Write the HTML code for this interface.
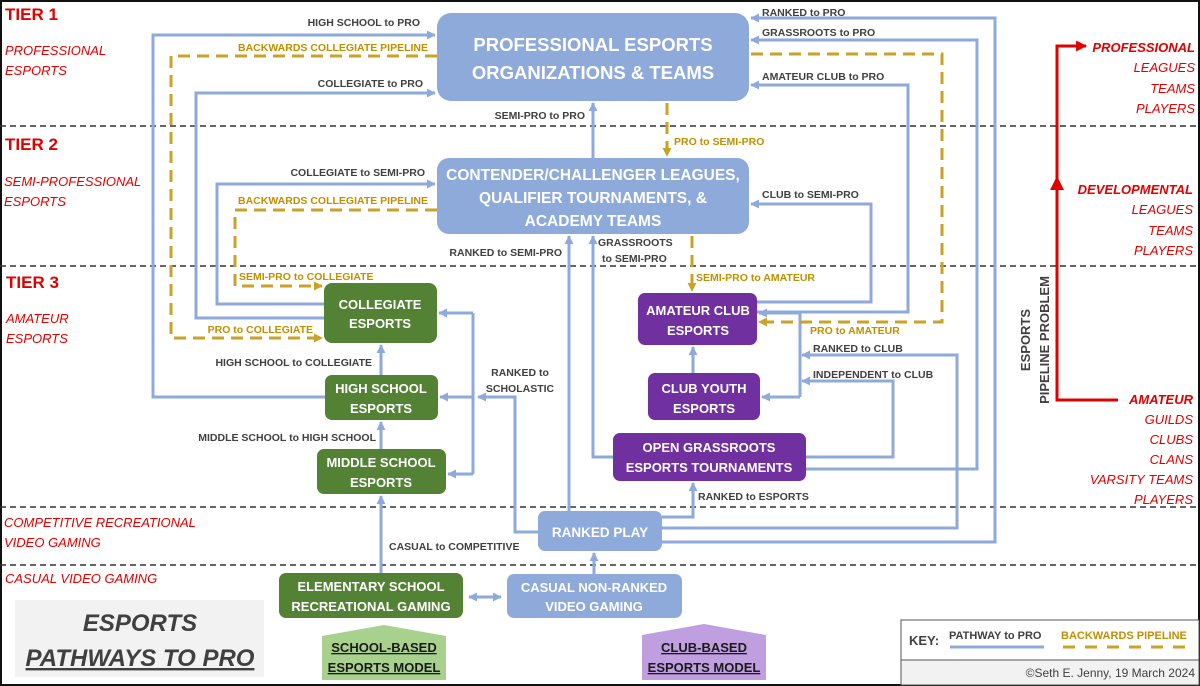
<!DOCTYPE html>
<html><head><meta charset="utf-8"><style>
html,body{margin:0;padding:0;background:#fff}
svg{display:block}
text{font-family:"Liberation Sans",sans-serif}
.l{font-size:10.5px;font-weight:bold;fill:#404040}
.g{font-size:10.5px;font-weight:bold;fill:#bf9000}
.r{font-size:13px;font-style:italic;fill:#e00000}
.rb{font-size:13px;font-style:italic;font-weight:bold;fill:#e00000}
.t{font-size:17px;font-weight:bold;fill:#e00000}
.w{fill:#fff;font-weight:bold;text-anchor:middle}
.bl{fill:none;stroke:#8eaadb;stroke-width:3}
.gd{fill:none;stroke:#c9a227;stroke-width:3;stroke-dasharray:12,7}
.dl{stroke:#333;stroke-width:1.5;stroke-dasharray:6,4}
</style></head><body>
<svg width="1200" height="686" viewBox="0 0 1200 686" xmlns="http://www.w3.org/2000/svg">
<defs>
<marker id="b" viewBox="0 0 10 10" refX="9" refY="5" markerWidth="9" markerHeight="9" markerUnits="userSpaceOnUse" orient="auto"><path d="M0,0L10,5L0,10z" fill="#8eaadb"/></marker>
<marker id="y" viewBox="0 0 10 10" refX="9" refY="5" markerWidth="9" markerHeight="9" markerUnits="userSpaceOnUse" orient="auto"><path d="M0,0L10,5L0,10z" fill="#c9a227"/></marker>
<marker id="rd" viewBox="0 0 10 10" refX="9" refY="5" markerWidth="11" markerHeight="11" markerUnits="userSpaceOnUse" orient="auto"><path d="M0,0L10,5L0,10z" fill="#e00000"/></marker>
</defs>
<rect x="1" y="1" width="1198" height="684" fill="#fff" stroke="#111" stroke-width="2"/>
<!-- tier dashed lines -->
<line class="dl" x1="0" y1="126" x2="1200" y2="126"/>
<line class="dl" x1="0" y1="266" x2="1200" y2="266"/>
<line class="dl" x1="0" y1="507" x2="1200" y2="507"/>
<line class="dl" x1="0" y1="565" x2="1200" y2="565"/>

<!-- left labels -->
<text class="t" x="5" y="20">TIER 1</text>
<text class="r" x="5" y="55">PROFESSIONAL</text>
<text class="r" x="5" y="75">ESPORTS</text>
<text class="t" x="5" y="150">TIER 2</text>
<text class="r" x="4" y="186">SEMI-PROFESSIONAL</text>
<text class="r" x="4" y="206">ESPORTS</text>
<text class="t" x="6" y="288">TIER 3</text>
<text class="r" x="6" y="323">AMATEUR</text>
<text class="r" x="6" y="343">ESPORTS</text>
<text class="r" x="4" y="527">COMPETITIVE RECREATIONAL</text>
<text class="r" x="4" y="547">VIDEO GAMING</text>
<text class="r" x="5" y="583">CASUAL VIDEO GAMING</text>

<!-- blue connectors -->
<polyline class="bl" points="325,397 153,397 153,35 435,35" marker-end="url(#b)"/>
<polyline class="bl" points="324,318 196,318 196,93 435,93" marker-end="url(#b)"/>
<polyline class="bl" points="324,304 217,304 217,184 435,184" marker-end="url(#b)"/>
<polyline class="bl" points="593,158 593,103" marker-end="url(#b)"/>
<polyline class="bl" points="613,457 593,457 593,236" marker-end="url(#b)"/>
<polyline class="bl" points="569,511 569,236" marker-end="url(#b)"/>
<polyline class="bl" points="538,532 515,532 515,397 478,397" marker-end="url(#b)"/>
<polyline class="bl" points="473,313 473,474"/>
<polyline class="bl" points="473,313 439,313" marker-end="url(#b)"/>
<polyline class="bl" points="473,397 440,397" marker-end="url(#b)"/>
<polyline class="bl" points="473,474 448,474" marker-end="url(#b)"/>
<polyline class="bl" points="381,375 381,345" marker-end="url(#b)"/>
<polyline class="bl" points="381,449 381,422" marker-end="url(#b)"/>
<polyline class="bl" points="381,573 381,496" marker-end="url(#b)"/>
<polyline class="bl" points="469,597 501,597" marker-end="url(#b)"/>
<polyline class="bl" points="501,597 469,597" marker-end="url(#b)"/>
<polyline class="bl" points="594,574 594,553" marker-end="url(#b)"/>
<polyline class="bl" points="662,517 693,517 693,483" marker-end="url(#b)"/>
<polyline class="bl" points="662,528 957,528 957,355 802,355" marker-end="url(#b)"/>
<polyline class="bl" points="662,542 995,542 995,18 751,18" marker-end="url(#b)"/>
<polyline class="bl" points="806,469 977,469 977,40 751,40" marker-end="url(#b)"/>
<polyline class="bl" points="757,312 908,312 908,85 751,85" marker-end="url(#b)"/>
<polyline class="bl" points="757,302 871,302 871,204 751,204" marker-end="url(#b)"/>
<polyline class="bl" points="806,457 893,457 893,381 802,381" marker-end="url(#b)"/>
<polyline class="bl" points="800,397 800,313"/>
<polyline class="bl" points="800,313 759,313" marker-end="url(#b)"/>
<polyline class="bl" points="800,397 762,397" marker-end="url(#b)"/>
<polyline class="bl" points="693,373 693,347" marker-end="url(#b)"/>

<!-- gold dashed -->
<polyline class="gd" points="437,56 171,56 171,338 322,338" marker-end="url(#y)"/>
<polyline class="gd" points="437,210 235,210 235,286 322,286" marker-end="url(#y)"/>
<polyline class="gd" points="667,103 667,156" marker-end="url(#y)"/>
<polyline class="gd" points="692,236 692,291" marker-end="url(#y)"/>
<polyline class="gd" points="751,54 942,54 942,322 759,322" marker-end="url(#y)"/>

<!-- boxes -->
<rect x="437" y="13" width="312" height="88" rx="14" fill="#8eaadb"/>
<text class="w" x="593" y="51" font-size="18.5">PROFESSIONAL ESPORTS</text>
<text class="w" x="593" y="79" font-size="18.5">ORGANIZATIONS &amp; TEAMS</text>
<rect x="437" y="158" width="312" height="76" rx="12" fill="#8eaadb"/>
<text class="w" x="593" y="180" font-size="15.5">CONTENDER/CHALLENGER LEAGUES,</text>
<text class="w" x="593" y="203" font-size="15.5">QUALIFIER TOURNAMENTS, &amp;</text>
<text class="w" x="593" y="226" font-size="15.5">ACADEMY TEAMS</text>

<rect x="324" y="283" width="113" height="60" rx="8" fill="#548235"/>
<text class="w" x="380" y="309" font-size="13">COLLEGIATE</text>
<text class="w" x="380" y="328" font-size="13">ESPORTS</text>
<rect x="325" y="375" width="113" height="45" rx="7" fill="#548235"/>
<text class="w" x="381" y="393" font-size="13">HIGH SCHOOL</text>
<text class="w" x="381" y="413" font-size="13">ESPORTS</text>
<rect x="317" y="449" width="129" height="45" rx="7" fill="#548235"/>
<text class="w" x="381" y="467" font-size="13">MIDDLE SCHOOL</text>
<text class="w" x="381" y="487" font-size="13">ESPORTS</text>
<rect x="279" y="573" width="184" height="45" rx="7" fill="#548235"/>
<text class="w" x="371" y="591" font-size="13">ELEMENTARY SCHOOL</text>
<text class="w" x="371" y="611" font-size="13">RECREATIONAL GAMING</text>
<rect x="507" y="574" width="175" height="44" rx="7" fill="#8eaadb"/>
<text class="w" x="594" y="592" font-size="13">CASUAL NON-RANKED</text>
<text class="w" x="594" y="611" font-size="13">VIDEO GAMING</text>
<rect x="538" y="511" width="124" height="40" rx="7" fill="#8eaadb"/>
<text class="w" x="600" y="537" font-size="13.5">RANKED PLAY</text>

<rect x="638" y="293" width="119" height="52" rx="7" fill="#7030a0"/>
<text class="w" x="698" y="315" font-size="13">AMATEUR CLUB</text>
<text class="w" x="698" y="335" font-size="13">ESPORTS</text>
<rect x="648" y="373" width="112" height="47" rx="7" fill="#7030a0"/>
<text class="w" x="704" y="393" font-size="13">CLUB YOUTH</text>
<text class="w" x="704" y="413" font-size="13">ESPORTS</text>
<rect x="613" y="433" width="193" height="48" rx="7" fill="#7030a0"/>
<text class="w" x="709" y="452" font-size="13">OPEN GRASSROOTS</text>
<text class="w" x="709" y="472" font-size="13">ESPORTS TOURNAMENTS</text>

<!-- connector labels -->
<text class="l" x="420" y="26" text-anchor="end">HIGH SCHOOL to PRO</text>
<text class="g" x="428" y="51" text-anchor="end">BACKWARDS COLLEGIATE PIPELINE</text>
<text class="l" x="423" y="87" text-anchor="end">COLLEGIATE to PRO</text>
<text class="l" x="585" y="119" text-anchor="end">SEMI-PRO to PRO</text>
<text class="l" x="425" y="176" text-anchor="end">COLLEGIATE to SEMI-PRO</text>
<text class="g" x="428" y="204" text-anchor="end">BACKWARDS COLLEGIATE PIPELINE</text>
<text class="l" x="562" y="256" text-anchor="end">RANKED to SEMI-PRO</text>
<text class="g" x="239" y="280">SEMI-PRO to COLLEGIATE</text>
<text class="g" x="313" y="333" text-anchor="end">PRO to COLLEGIATE</text>
<text class="l" x="372" y="366" text-anchor="end">HIGH SCHOOL to COLLEGIATE</text>
<text class="l" x="376" y="441" text-anchor="end">MIDDLE SCHOOL to HIGH SCHOOL</text>
<text class="l" x="520" y="376" text-anchor="middle">RANKED to</text>
<text class="l" x="520" y="392" text-anchor="middle">SCHOLASTIC</text>
<text class="l" x="389" y="550">CASUAL to COMPETITIVE</text>
<text class="l" x="598" y="246">GRASSROOTS</text>
<text class="l" x="602" y="262">to SEMI-PRO</text>
<text class="g" x="674" y="145">PRO to SEMI-PRO</text>
<text class="g" x="696" y="281">SEMI-PRO to AMATEUR</text>
<text class="l" x="698" y="500">RANKED to ESPORTS</text>
<text class="l" x="762" y="16">RANKED to PRO</text>
<text class="l" x="762" y="36">GRASSROOTS to PRO</text>
<text class="l" x="762" y="80">AMATEUR CLUB to PRO</text>
<text class="l" x="762" y="198">CLUB to SEMI-PRO</text>
<text class="g" x="810" y="334">PRO to AMATEUR</text>
<text class="l" x="813" y="352">RANKED to CLUB</text>
<text class="l" x="813" y="378">INDEPENDENT to CLUB</text>

<!-- right side pipeline -->
<polyline points="1118,400 1057,400 1057,46 1086,46" fill="none" stroke="#e00000" stroke-width="3" marker-end="url(#rd)"/>
<path d="M1050,190 L1057,176 L1064,190 Z" fill="#e00000"/>
<text class="l" font-size="13" transform="translate(1030,340) rotate(-90)" text-anchor="middle" style="font-size:13px">ESPORTS</text>
<text class="l" font-size="13" transform="translate(1049,340) rotate(-90)" text-anchor="middle" style="font-size:13px">PIPELINE PROBLEM</text>
<g text-anchor="end">
<text class="rb" x="1195" y="52">PROFESSIONAL</text>
<text class="r" x="1195" y="72">LEAGUES</text>
<text class="r" x="1195" y="93">TEAMS</text>
<text class="r" x="1195" y="113">PLAYERS</text>
<text class="rb" x="1193" y="194">DEVELOPMENTAL</text>
<text class="r" x="1193" y="214">LEAGUES</text>
<text class="r" x="1193" y="235">TEAMS</text>
<text class="r" x="1193" y="255">PLAYERS</text>
<text class="rb" x="1193" y="404">AMATEUR</text>
<text class="r" x="1193" y="424">GUILDS</text>
<text class="r" x="1193" y="444">CLUBS</text>
<text class="r" x="1193" y="464">CLANS</text>
<text class="r" x="1193" y="484">VARSITY TEAMS</text>
<text class="r" x="1193" y="504">PLAYERS</text>
</g>

<!-- title box -->
<rect x="15" y="600" width="249" height="77" fill="#f2f2f2"/>
<text x="140" y="631" text-anchor="middle" font-size="24" font-weight="bold" font-style="italic" fill="#404040">ESPORTS</text>
<text x="140" y="666" text-anchor="middle" font-size="24" font-weight="bold" font-style="italic" fill="#404040" text-decoration="underline">PATHWAYS TO PRO</text>

<!-- model pentagons -->
<path d="M322,636 L384,625 L446,636 L446,680 L322,680 Z" fill="#a9d18e"/>
<text x="384" y="652" text-anchor="middle" font-size="13" font-weight="bold" fill="#1a1a1a" text-decoration="underline">SCHOOL-BASED</text>
<text x="384" y="672" text-anchor="middle" font-size="13" font-weight="bold" fill="#1a1a1a" text-decoration="underline">ESPORTS MODEL</text>
<path d="M642,635 L704,624 L766,635 L766,680 L642,680 Z" fill="#c09fe0"/>
<text x="704" y="652" text-anchor="middle" font-size="13" font-weight="bold" fill="#1a1a1a" text-decoration="underline">CLUB-BASED</text>
<text x="704" y="672" text-anchor="middle" font-size="13" font-weight="bold" fill="#1a1a1a" text-decoration="underline">ESPORTS MODEL</text>

<!-- key -->
<rect x="901" y="620" width="298" height="40" fill="#fff" stroke="#555" stroke-width="1"/>
<rect x="901" y="660" width="298" height="25" fill="#f2f2f2" stroke="#555" stroke-width="1"/>
<text x="909" y="645" font-size="13" font-weight="bold" fill="#404040">KEY:</text>
<text x="949" y="639" font-size="11" font-weight="bold" fill="#404040">PATHWAY to PRO</text>
<line x1="950" y1="647" x2="1044" y2="647" stroke="#8eaadb" stroke-width="3"/>
<text x="1061" y="639" font-size="11" font-weight="bold" fill="#bf9000">BACKWARDS PIPELINE</text>
<line x1="1063" y1="647" x2="1185" y2="647" stroke="#c9a227" stroke-width="3" stroke-dasharray="12,10"/>
<text x="1195" y="677" text-anchor="end" font-size="12" fill="#404040">©Seth E. Jenny, 19 March 2024</text>
</svg>
</body></html>
